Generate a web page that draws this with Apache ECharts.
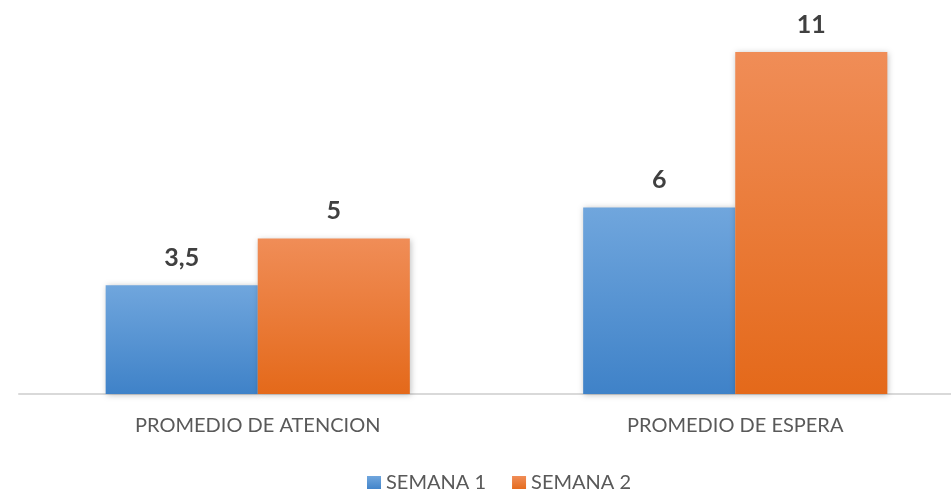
<!DOCTYPE html>
<html><head><meta charset="utf-8">
<script src="https://cdn.jsdelivr.net/npm/echarts@6/dist/echarts.min.js"></script>
<style>html,body{margin:0;padding:0;background:#fff}#c{width:951px;height:489px}</style>
</head><body><div id="c"></div>
<script>
const categories = ['PROMEDIO DE ATENCION', 'PROMEDIO DE ESPERA'];
const seriesNames = ['SEMANA 1', 'SEMANA 2'];
const semana1 = [3.5, 6];
const semana2 = [5, 11];

const FONT = 'Lato';
function grad(top, bottom) {
  return new echarts.graphic.LinearGradient(0, 0, 0, 1, [{offset: 0, color: top}, {offset: 1, color: bottom}]);
}
const chart = echarts.init(document.getElementById('c'), null, {renderer: 'canvas'});
const label = {
  show: true, position: 'top', distance: 15,
  fontFamily: FONT, fontWeight: 'bold', fontSize: 25, color: '#404040',
  formatter: p => String(p.value).replace('.', ',')
};
chart.setOption({
  animation: false,
  grid: {left: 19, top: 52, width: 955, bottom: 95, containLabel: false, outerBoundsMode: 'none'},
  legend: {
    top: 473, left: 367, padding: 0, itemWidth: 14, itemHeight: 14, itemGap: 26,
    icon: 'rect',
    textStyle: {fontFamily: FONT, fontSize: 20, color: '#595959'},
    data: seriesNames
  },
  xAxis: {
    type: 'category', data: categories,
    axisLine: {lineStyle: {color: '#d9d9d9', width: 2}},
    axisTick: {show: false},
    axisLabel: {fontFamily: FONT, fontSize: 20, color: '#595959', margin: 22}
  },
  yAxis: {type: 'value', min: 0, max: 11, show: false, splitLine: {show: false}},
  series: [
    {name: seriesNames[0], type: 'bar', data: semana1, barGap: '0%', barCategoryGap: '36.3%',
     itemStyle: {color: grad('#70a6dd', '#3f82c8'), shadowColor: 'rgba(0,0,0,0.25)', shadowBlur: 6, shadowOffsetX: 1, shadowOffsetY: 1},
     label: label},
    {name: seriesNames[1], type: 'bar', data: semana2, barGap: '0%', barCategoryGap: '36.3%',
     itemStyle: {color: grad('#f08d57', '#e4691a'), shadowColor: 'rgba(0,0,0,0.25)', shadowBlur: 6, shadowOffsetX: 1, shadowOffsetY: 1},
     label: label}
  ]
});
</script></body></html>
